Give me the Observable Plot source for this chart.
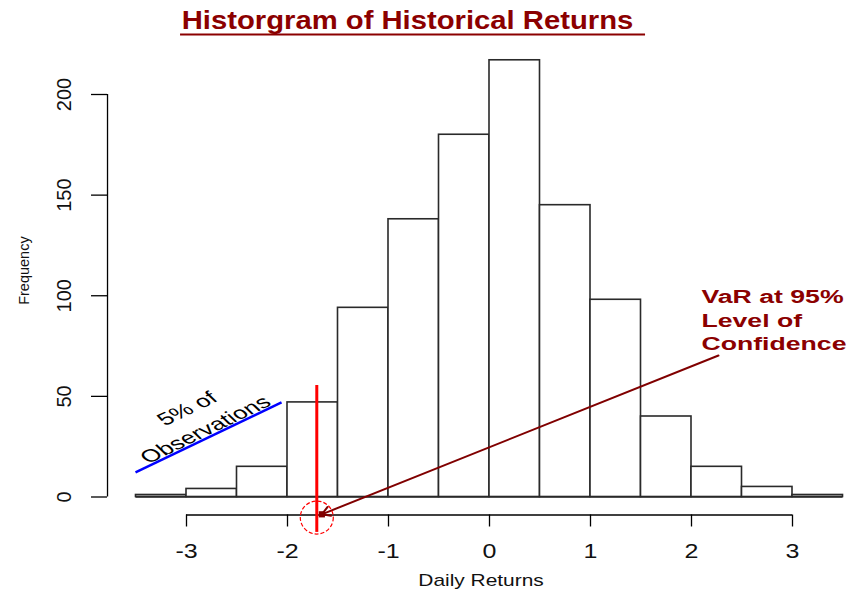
<!DOCTYPE html>
<html><head><meta charset="utf-8">
<script src="https://cdn.jsdelivr.net/npm/d3@7"></script>
<script src="https://cdn.jsdelivr.net/npm/@observablehq/plot@0.6"></script>
<style>html,body{margin:0;padding:0;background:#fff}svg{display:block}</style>
</head><body><div id="chart"></div>
<script>
// ---- data ----
const binStarts = [-3.5,-3,-2.5,-2,-1.5,-1,-0.5,0,0.5,1,1.5,2,2.5,3];
const binWidth = 0.5;
const counts = [1,4,15,47,94,138,180,217,145,98,40,15,5,1];
const xTicks = [-3,-2,-1,0,1,2,3];
const xTickLabels = ["-3","-2","-1","0","1","2","3"];
const yTicks = [0,50,100,150,200];
const yTickLabels = ["0","50","100","150","200"];
const titleText = "Historgram of Historical Returns";
const xLabel = "Daily Returns";
const yLabel = "Frequency";
const varValue = -1.71;
const varText = "VaR at 95%\nLevel of\nConfidence";
const tailLines = ["5% of", "Observations"];

const bins = binStarts.map((s, i) => ({x1: s, x2: s + binWidth, count: counts[i]}));

// ---- layout (data units; 101 px per x unit, 2.0125 px per y unit) ----
const PX = 101, PY = 2.0125;
const xDomain = [-489 / PX, 367 / PX];
const yDomain = [-94.5 / PY, 496.5 / PY];
const yAxisX = -3.782;
const xAxisY = -8.94;
const darkRed = "#8B0000";

const plot = Plot.plot({
  width: 856, height: 591, margin: 0,
  x: {domain: xDomain, axis: null},
  y: {domain: yDomain, axis: null},
  style: {fontFamily: "'Liberation Sans', Arial, sans-serif", background: "#fff", color: "#000"},
  marks: [
    // bars
    Plot.rect(bins, {x1: "x1", x2: "x2", y1: 0, y2: "count", fill: "white", stroke: "#2a2a2a", strokeWidth: 1.6}),
    Plot.ruleY([0], {x1: -3.5, x2: 3.5, stroke: "#2a2a2a", strokeWidth: 1.6}),
    // y axis
    Plot.ruleX([yAxisX], {y1: 0, y2: 200, stroke: "#000", strokeWidth: 1.3}),
    Plot.ruleY(yTicks, {x1: yAxisX - 16 / PX, x2: yAxisX, stroke: "#000", strokeWidth: 1.3}),
    Plot.text(yTicks, {x: -4.203, y: d => d, text: (d, i) => yTickLabels[i], rotate: -90, fontSize: 20, fill: "#111"}),
    Plot.text([yLabel], {x: -4.604, y: 112.5, text: d => d, rotate: -90, fontSize: 14.5, fill: "#111"}),
    // x axis
    Plot.ruleY([xAxisY], {x1: -3, x2: 3, stroke: "#000", strokeWidth: 1.3}),
    Plot.ruleX(xTicks, {y1: xAxisY, y2: xAxisY - 12 / PY, stroke: "#000", strokeWidth: 1.3}),
    Plot.text(xTicks, {x: d => d, y: -26.9, text: (d, i) => xTickLabels[i], fontSize: 20, fill: "#111", ariaDescription: "sx:1.25"}),
    Plot.text([xLabel], {x: -0.084, y: -41.3, text: d => d, fontSize: 17, fill: "#111", ariaDescription: "sx:1.23"}),
    // title
    Plot.text([titleText], {x: -0.812, y: 236.3, text: d => d, fontSize: 25, fontWeight: "bold", fill: darkRed, ariaDescription: "sx:1.17"}),
    Plot.ruleY([229.8], {x1: -3.059, x2: 1.545, stroke: darkRed, strokeWidth: 2}),
    // tail annotation
    Plot.link([0], {x1: -3.505, y1: 12.2, x2: -2.059, y2: 47.0, stroke: "#0000ff", strokeWidth: 2.5}),
    Plot.text([tailLines[0]], {x: -2.993, y: 43.8, text: d => d, rotate: -25.6, fontSize: 17.5, fill: "#000", ariaDescription: "sx:1.48"}),
    Plot.text([tailLines[1]], {x: -2.812, y: 33.4, text: d => d, rotate: -25.6, fontSize: 17.5, fill: "#000", ariaDescription: "sx:1.48"}),
    // VaR annotation
    Plot.arrow([0], {x1: 2.267, y1: 70.3, x2: -1.66, y2: -8.6, stroke: "#800000", strokeWidth: 2, headLength: 7}),
    Plot.dot([0], {x: -1.66, y: -8.6, r: 3.5, symbol: "square", fill: "#800000", stroke: "none"}),
    Plot.ruleX([varValue], {y1: 55.4, y2: -17.6, stroke: "#ff0000", strokeWidth: 3}),
    Plot.dot([0], {x: varValue, y: -10.2, r: 16.5, stroke: "#ff0000", fill: "none", strokeWidth: 1.2, strokeDasharray: "4,2"}),
    Plot.text([varText], {x: 2.099, y: 104.5, text: d => d, textAnchor: "start", lineAnchor: "top", lineHeight: 1.305, fontSize: 18, fontWeight: "bold", fill: darkRed, ariaDescription: "sx:1.48"})
  ]
});

// horizontal glyph stretch (the reference image is horizontally stretched)
plot.querySelectorAll("g[aria-description^='sx:']").forEach(g => {
  const sx = +g.getAttribute("aria-description").split(":")[1];
  g.querySelectorAll("text").forEach(t => {
    const tr = t.getAttribute("transform") || "";
    const m = tr.match(/translate\(\s*([-\d.e]+)[\s,]+([-\d.e]+)\s*\)/);
    let tx, ty;
    if (m) { tx = +m[1]; ty = +m[2]; }
    else { tx = +(t.getAttribute("x") || 0); ty = +(t.getAttribute("y") || 0); t.removeAttribute("x"); t.removeAttribute("y"); }
    const rm = tr.match(/rotate\(\s*([-\d.e]+)/);
    const r = rm ? +rm[1] * Math.PI / 180 : 0;
    const r2 = Math.atan2(sx * Math.sin(r), Math.cos(r)) * 180 / Math.PI;
    t.setAttribute("transform", `translate(${tx},${ty}) scale(${sx},1)` + (rm ? ` rotate(${r2})` : ""));
  });
});

document.getElementById("chart").appendChild(plot);
</script>
</body></html>
